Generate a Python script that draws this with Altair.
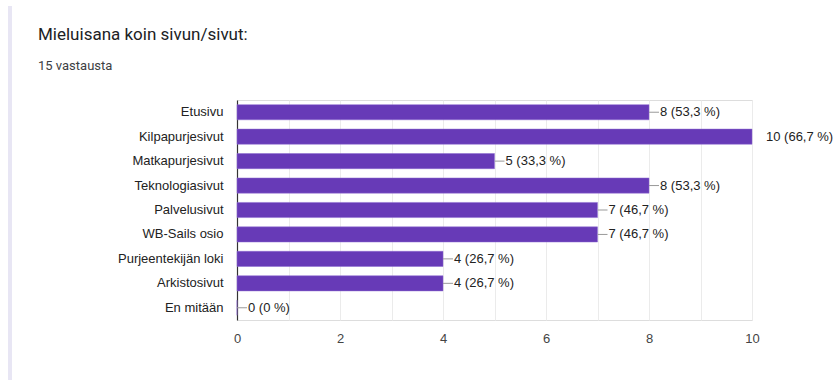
import altair as alt
import pandas as pd

categories = ["Etusivu", "Kilpapurjesivut", "Matkapurjesivut", "Teknologiasivut",
              "Palvelusivut", "WB-Sails osio", "Purjeentekijän loki", "Arkistosivut", "En mitään"]
counts = [8, 10, 5, 8, 7, 7, 4, 4, 0]
labels = ["8 (53,3 %)", "10 (66,7 %)", "5 (33,3 %)", "8 (53,3 %)", "7 (46,7 %)",
          "7 (46,7 %)", "4 (26,7 %)", "4 (26,7 %)", "0 (0 %)"]
title_text = "Mieluisana koin sivun/sivut:"
subtitle_text = "15 vastausta"

df = pd.DataFrame({"cat": categories, "n": counts, "lab": labels})

FONT = "Liberation Sans"
FS = 13
W, H = 515, 220
LEFT, TOP = 237, 100

y_enc = alt.Y("cat:N", sort=categories,
              scale=alt.Scale(paddingInner=0.38, paddingOuter=0.19),
              axis=alt.Axis(title=None, ticks=False, labelPadding=14, labelFontSize=FS,
                            labelColor="#222222", labelFont=FONT, domainColor="#333333",
                            domainWidth=1.2, grid=False))
x_scale = alt.Scale(domain=[0, 10], nice=False)
x_axis = alt.Axis(title=None, values=list(range(11)), ticks=False, domain=False,
                  labelExpr="datum.value % 2 == 0 ? datum.label : ''", labelFlush=False,
                  labelFontSize=FS, labelColor="#444444", labelFont=FONT, labelPadding=12,
                  grid=True, gridColor="#ebebeb")

bars = alt.Chart(df).mark_bar(color="#673ab7", stroke="#8d6ad0", strokeWidth=0.5).encode(
    x=alt.X("n:Q", scale=x_scale, axis=x_axis), y=y_enc)

conn = alt.Chart(df).transform_filter("datum.n < 10").mark_rule(
    color="#999999", x2Offset=10, strokeWidth=1).encode(
    x=alt.X("n:Q", scale=x_scale), x2="n:Q", y=alt.Y("cat:N", sort=categories, bandPosition=0.5))

txt_short = alt.Chart(df).transform_filter("datum.n < 10").mark_text(
    align="left", baseline="middle", dx=11, fontSize=FS, font=FONT, color="#222222").encode(
    x=alt.X("n:Q", scale=x_scale), y=alt.Y("cat:N", sort=categories, bandPosition=0.5), text="lab:N")

txt_full = alt.Chart(df).transform_filter("datum.n >= 10").mark_text(
    align="left", baseline="middle", dx=14, fontSize=FS, font=FONT, color="#222222").encode(
    x=alt.X("n:Q", scale=x_scale), y=alt.Y("cat:N", sort=categories, bandPosition=0.5), text="lab:N")

stripe = alt.Chart(pd.DataFrame({"a": [0]})).mark_rect(color="#e8e6f4").encode(
    x=alt.value(8 - LEFT), x2=alt.value(12 - LEFT), y=alt.value(6 - TOP), y2=alt.value(380 - TOP))

t1 = alt.Chart(pd.DataFrame({"t": [title_text]})).mark_text(
    align="left", baseline="middle", fontSize=17, font="Roboto", color="#202124").encode(
    x=alt.value(38 - LEFT), y=alt.value(35 - TOP), text="t:N")
t2 = alt.Chart(pd.DataFrame({"t": [subtitle_text]})).mark_text(
    align="left", baseline="middle", fontSize=13, font="Roboto", color="#3c4043").encode(
    x=alt.value(38 - LEFT), y=alt.value(66 - TOP), text="t:N")

chart = alt.layer(bars, conn, txt_short, txt_full, stripe, t1, t2).properties(
    width=W, height=H,
    autosize=alt.AutoSizeParams(type="none"),
    padding={"left": LEFT, "top": TOP, "right": 834 - LEFT - W, "bottom": 380 - TOP - H},
).configure_view(stroke=None).configure(background="white")

chart.save("out.html", embed_options={"renderer": "svg", "actions": False})
